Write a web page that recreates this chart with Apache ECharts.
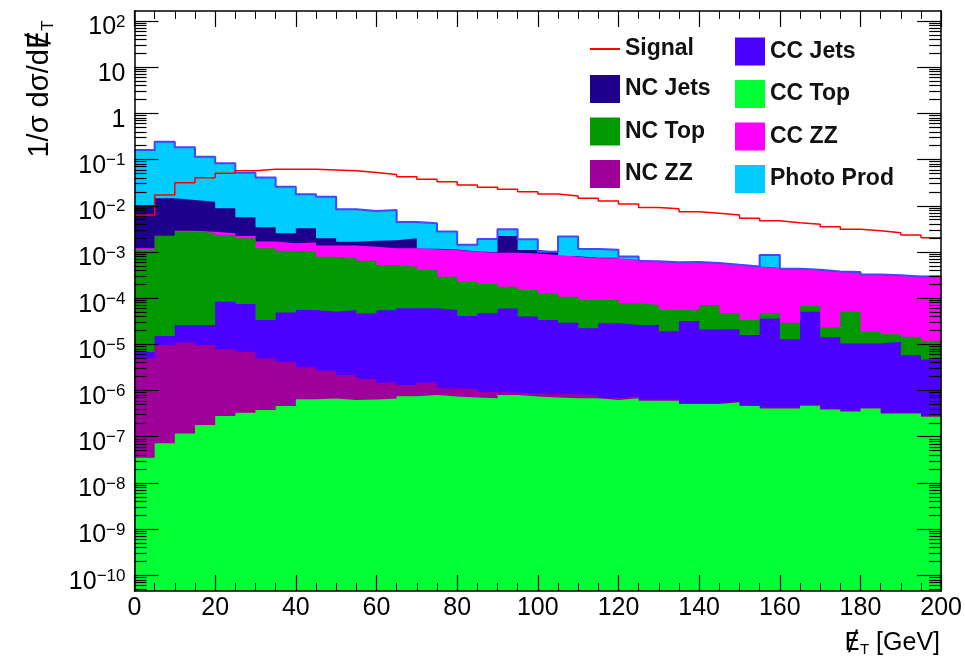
<!DOCTYPE html>
<html>
<head>
<meta charset="utf-8">
<script src="https://cdn.jsdelivr.net/npm/echarts@6/dist/echarts.min.js"></script>
<style>
  html, body { margin: 0; padding: 0; background: #fff; }
  #chart { width: 965px; height: 662px; }
</style>
</head>
<body>
<div id="chart"></div>
<script>
// Missing transverse energy histograms, 5 GeV bins from 0 to 200 GeV
const binEdges = [0, 5, 10, 15, 20, 25, 30, 35, 40, 45, 50, 55, 60, 65, 70, 75, 80, 85, 90, 95,
  100, 105, 110, 115, 120, 125, 130, 135, 140, 145, 150, 155, 160, 165, 170, 175, 180, 185, 190, 195, 200];

// Background contributions per bin (stacked bottom to top in this order)
const ccTop = [3.5e-8, 7.2e-8, 1.18e-7, 1.79e-7, 2.8e-7, 3.3e-7, 3.8e-7, 4.6e-7, 6.5e-7, 6.7e-7,
  6.2e-7, 6.4e-7, 6.7e-7, 7.5e-7, 8.0e-7, 7.4e-7, 7.1e-7, 6.8e-7, 8.0e-7, 7.4e-7,
  7.1e-7, 6.8e-7, 6.8e-7, 6.2e-7, 6.8e-7, 6.0e-7, 6.0e-7, 5.1e-7, 5.1e-7, 5.6e-7,
  4.6e-7, 4.1e-7, 4.1e-7, 4.7e-7, 3.9e-7, 3.5e-7, 4.1e-7, 3.2e-7, 3.2e-7, 2.7e-7];
const ncZZ = [4.97e-6, 9.6e-6, 1.08e-5, 9.5e-6, 7.5e-6, 6.6e-6, 4.6e-6, 3.7e-6, 2.55e-6, 2.0e-6,
  1.55e-6, 1.14e-6, 8.1e-7, 5.7e-7, 6.8e-7, 3.8e-7, 3.6e-7, 2.6e-7, 1.0e-7, 1.3e-7,
  1.2e-7, 1.5e-7, 1.2e-7, 6e-8, 6e-8, 4e-8, 4e-8, 3e-8, 3e-8, 2.5e-8,
  2.5e-8, 2e-8, 2e-8, 2e-8, 1.5e-8, 1.5e-8, 1.2e-8, 1.2e-8, 1e-8, 1e-8];
const ccJets = [1.8e-6, 5.4e-6, 1.53e-5, 1.65e-5, 7.6e-5, 6.8e-5, 2.87e-5, 4.5e-5, 5.2e-5, 4.8e-5,
  5.3e-5, 4.5e-5, 5.3e-5, 5.9e-5, 5.9e-5, 5.4e-5, 4.0e-5, 4.6e-5, 5.9e-5, 3.9e-5,
  3.3e-5, 2.86e-5, 2.14e-5, 2.78e-5, 2.55e-5, 2.56e-5, 1.85e-5, 3.15e-5, 2.05e-5, 2.05e-5,
  1.54e-5, 3.6e-5, 1.24e-5, 5.05e-5, 1.38e-5, 1.01e-5, 1.0e-5, 1.1e-5, 5.5e-6, 4.4e-6];
const ncTop = [1.09e-3, 2.19e-3, 2.72e-3, 2.57e-3, 2.25e-3, 1.9e-3, 1.17e-3, 1.01e-3, 9.5e-4, 7.4e-4,
  6.75e-4, 6.0e-4, 4.65e-4, 4.2e-4, 3.47e-4, 2.37e-4, 1.86e-4, 1.55e-4, 1.17e-4, 1.1e-4,
  9.3e-5, 7.8e-5, 6.9e-5, 6.25e-5, 5.1e-5, 4.5e-5, 3.6e-5, 2.25e-5, 5.0e-5, 2.6e-5,
  1.77e-5, 1.04e-5, 1.65e-5, 1.7e-5, 9.2e-6, 4.05e-5, 8.3e-6, 5.3e-6, 8.7e-6, 7.3e-6];
const ccZZ = [1.0e-4, 5e-5, 1.3e-4, 1.5e-4, 2.0e-4, 2.4e-4, 4.7e-4, 4.8e-4, 5.9e-4, 5.9e-4,
  6.5e-4, 6.5e-4, 6.8e-4, 7.2e-4, 7.3e-4, 8.1e-4, 7.8e-4, 7.6e-4, 7.8e-4, 7.8e-4,
  7.3e-4, 6.8e-4, 6.4e-4, 6.4e-4, 5.9e-4, 5.5e-4, 5.35e-4, 5.45e-4, 5.0e-4, 4.75e-4,
  4.45e-4, 4.0e-4, 4.0e-4, 3.4e-4, 3.5e-4, 3.1e-4, 3.0e-4, 2.9e-4, 2.75e-4, 2.8e-4];
const ncJets = [9.2e-3, 1.23e-2, 1.04e-2, 9.5e-3, 6.3e-3, 3.4e-3, 1.75e-3, 9.9e-4, 1.66e-3, 5.9e-4,
  2.9e-4, 4.5e-4, 6.0e-4, 7.7e-4, 3e-5, 3e-5, 2e-5, 2e-5, 1.25e-3, 1.7e-4,
  1.5e-4, 2e-5, 2e-5, 2e-5, 1e-5, 1e-5, 1e-5, 5e-6, 5e-6, 5e-6,
  5e-6, 5e-6, 5e-6, 5e-6, 5e-6, 5e-6, 5e-6, 5e-6, 5e-6, 5e-6];
const photoProd = [0.151, 0.23, 0.171, 0.103, 0.074, 0.046, 0.0376, 0.0234, 0.0144, 0.0137,
  0.0067, 0.006, 0.0063, 0.0025, 0.003, 0.00165, 0.0004, 0.00092, 0.00088, 0.00078,
  0, 0.00135, 0.00041, 0.00037, 0.00012, 0, 0, 0, 0, 0,
  0, 0.00041, 0, 0, 0, 0, 0, 0, 0, 0];

// Signal shape (drawn as a line over the stack)
const signal = [0.0063, 0.0171, 0.0316, 0.0406, 0.0505, 0.0574, 0.0615, 0.062, 0.062, 0.0594,
  0.057, 0.0528, 0.0478, 0.0426, 0.0374, 0.0332, 0.0282, 0.0251, 0.0227, 0.0202,
  0.018, 0.0163, 0.0145, 0.0127, 0.0109, 0.0092, 0.0086, 0.00745, 0.00687, 0.0063,
  0.00535, 0.00475, 0.0043, 0.00396, 0.00352, 0.00309, 0.00288, 0.00261, 0.00233, 0.00204];

// Decade exponents that get a labelled tick on the y axis
const yTickExponents = [-10, -9, -8, -7, -6, -5, -4, -3, -2, -1, 0, 1, 2];

const FONT = '"Liberation Sans", Arial, Helvetica, sans-serif';
const Y_LO = -10.34, Y_HI = 2.2165;   // plotted range in powers of ten

const layers = [
  { name: 'CC Top', data: ccTop, color: '#00ff33' },
  { name: 'NC ZZ', data: ncZZ, color: '#9e0099' },
  { name: 'CC Jets', data: ccJets, color: '#4c00ff' },
  { name: 'NC Top', data: ncTop, color: '#009900' },
  { name: 'CC ZZ', data: ccZZ, color: '#ff00ff' },
  { name: 'NC Jets', data: ncJets, color: '#1e008c' },
  { name: 'Photo Prod', data: photoProd, color: '#00ccff' }
];

// running sums give the top edge of each stacked layer
let running = binEdges.slice(0, -1).map(() => 0);
const stackTops = layers.map(l => {
  running = running.map((s, i) => s + l.data[i]);
  return running.slice();
});

// histogram points: left bin edges plus the closing right edge
function histPoints(vals) {
  const pts = vals.map((v, i) => [binEdges[i], v]);
  pts.push([binEdges[vals.length], vals[vals.length - 1]]);
  return pts;
}

const series = [];
for (let k = layers.length - 1; k >= 0; k--) {
  const l = layers[k];
  series.push({
    name: l.name,
    type: 'line',
    step: 'end',
    data: histPoints(stackTops[k]),
    symbol: 'none',
    showSymbol: false,
    lineStyle: { color: l.color, width: 0 },
    itemStyle: { color: l.color },
    areaStyle: { color: l.color, opacity: 1, origin: 'start' },
    silent: true
  });
}
// outline of the full stack
series.push({
  name: 'stack outline',
  type: 'line',
  step: 'end',
  data: histPoints(stackTops[layers.length - 1]),
  symbol: 'none',
  lineStyle: { color: '#4646ff', width: 2 },
  silent: true
});
series.push({
  name: 'Signal',
  type: 'line',
  step: 'end',
  data: histPoints(signal),
  symbol: 'none',
  showSymbol: false,
  lineStyle: { color: '#ff0000', width: 1.5 },
  itemStyle: { color: '#ff0000' },
  silent: true
});

// minor log ticks at 2..9 x 10^n
const minorExp = [];
for (let n = -11; n <= 2; n++) {
  for (let k = 2; k <= 9; k++) {
    const e = n + Math.log10(k);
    if (e > Y_LO && e < Y_HI) minorExp.push(e);
  }
}

const frameLine = { show: true, onZero: false, lineStyle: { color: '#000', width: 1.5 } };

function yLabel(v) {
  const n = Math.round(v);
  if (n === 0) return '{b|1}';
  if (n === 1) return '{b|10}';
  return '{b|10}{s|' + (n < 0 ? '\u2212' + (-n) : String(n)) + '}';
}
const yRich = {
  b: { fontSize: 25, lineHeight: 28, fontFamily: FONT, color: '#000' },
  s: { fontSize: 17, lineHeight: 10, fontFamily: FONT, color: '#000', verticalAlign: 'top' }
};

function tickAxis(position, values, len, withLabels) {
  return {
    type: 'value', min: Y_LO, max: Y_HI, position: position,
    axisLine: { show: false, onZero: false },
    axisTick: { show: true, inside: true, length: len, customValues: values,
      lineStyle: { color: '#000', width: 1.2 } },
    axisLabel: withLabels ? {
      show: true, customValues: values, formatter: yLabel, rich: yRich,
      margin: 9, padding: [13, 0, 0, 0]
    } : { show: false },
    splitLine: { show: false },
    z: 10
  };
}

const xCommon = {
  type: 'value', min: 0, max: 200, interval: 20,
  axisLine: frameLine,
  axisTick: { show: true, inside: true, length: 16, lineStyle: { color: '#000', width: 1.2 } },
  minorTick: { show: true, splitNumber: 4, length: 8, lineStyle: { color: '#000', width: 1 } },
  splitLine: { show: false },
  minorSplitLine: { show: false },
  z: 10
};

const legendText = { fontSize: 23, fontWeight: 'bold', fontFamily: FONT, color: '#111' };

const option = {
  animation: false,
  backgroundColor: '#fff',
  grid: { left: 134.5, right: 23.7, top: 11, bottom: 71, containLabel: false },
  xAxis: [
    Object.assign({}, xCommon, {
      position: 'bottom',
      axisLabel: { show: true, fontSize: 25, fontFamily: FONT, color: '#000', margin: 5,
        showMinLabel: true, showMaxLabel: true }
    }),
    Object.assign({}, xCommon, { position: 'top', axisLabel: { show: false } })
  ],
  yAxis: [
    { type: 'log', logBase: 10, min: Math.pow(10, Y_LO), max: Math.pow(10, Y_HI), position: 'left',
      axisLine: frameLine, axisTick: { show: false }, axisLabel: { show: false },
      splitLine: { show: false }, z: 10 },
    tickAxis('left', yTickExponents, 24, true),
    tickAxis('left', minorExp, 12, false),
    { type: 'log', logBase: 10, min: Math.pow(10, Y_LO), max: Math.pow(10, Y_HI), position: 'right',
      axisLine: frameLine, axisTick: { show: false }, axisLabel: { show: false },
      splitLine: { show: false }, z: 10 },
    tickAxis('right', yTickExponents, 24, false),
    tickAxis('right', minorExp, 12, false)
  ],
  legend: [
    {
      data: [{ name: 'Signal', icon: 'path://M0,0H30V2H0Z' }, { name: 'NC Jets', icon: 'rect' },
             { name: 'NC Top', icon: 'rect' }, { name: 'NC ZZ', icon: 'rect' }],
      orient: 'vertical', left: 590, top: 37.5, padding: 0,
      itemWidth: 30, itemHeight: 28, itemGap: 14.5, selectedMode: false,
      textStyle: legendText
    },
    {
      data: [{ name: 'CC Jets', icon: 'rect' }, { name: 'CC Top', icon: 'rect' },
             { name: 'CC ZZ', icon: 'rect' }, { name: 'Photo Prod', icon: 'rect' }],
      orient: 'vertical', left: 735, top: 37.5, padding: 0,
      itemWidth: 30, itemHeight: 28, itemGap: 14.5, selectedMode: false,
      textStyle: legendText
    }
  ],
  graphic: [
    {
      type: 'text', x: 40, y: 89, rotation: Math.PI / 2,
      style: {
        text: '{t|1/\u03c3 d\u03c3/d}{e|\u0246}{u|T}',
        align: 'center', verticalAlign: 'middle',
        rich: {
          t: { fontSize: 29, lineHeight: 34, fontFamily: FONT, fill: '#000' },
          e: { fontSize: 29, lineHeight: 34, fontFamily: '"DejaVu Sans", ' + FONT, fill: '#000' },
          u: { fontSize: 17, lineHeight: 12, fontFamily: FONT, fill: '#000', verticalAlign: 'bottom' }
        }
      }
    },
    {
      type: 'text', x: 940, y: 643,
      style: {
        text: '{e|\u0246}{u|T}{t| [GeV]}',
        align: 'right', verticalAlign: 'middle',
        rich: {
          t: { fontSize: 25, lineHeight: 28, fontFamily: FONT, fill: '#000' },
          e: { fontSize: 25, lineHeight: 28, fontFamily: '"DejaVu Sans", ' + FONT, fill: '#000' },
          u: { fontSize: 15, lineHeight: 10, fontFamily: FONT, fill: '#000', verticalAlign: 'bottom' }
        }
      }
    }
  ],
  series: series
};

const chart = echarts.init(document.getElementById('chart'), null, { renderer: 'canvas' });
chart.setOption(option);
</script>
</body>
</html>
